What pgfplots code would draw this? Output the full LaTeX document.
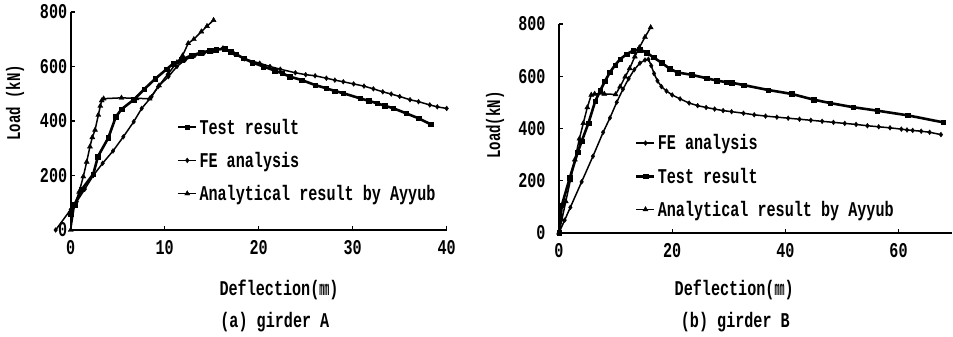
\documentclass[border=0pt]{standalone}
\usepackage{fontspec}
\setmainfont{Liberation Mono}[FakeStretch=0.72]
\usepackage{pgfplots}
\pgfplotsset{compat=1.18}
\newcommand\cf{\fontsize{21bp}{24bp}\selectfont\bfseries}
\newcommand\cfs{\fontsize{19.5bp}{22bp}\selectfont\bfseries}
\pgfplotsset{
  girder/.style={
    scale only axis, clip=false,
    axis lines=left, axis line style={-, line width=1.7bp},
    tick align=inside, major tick length=4bp,
    tick style={line width=1.2bp, black},
    ymin=0, ymax=800, ytick={0,200,...,800},
    xmin=0,
    /pgf/number format/assume math mode=true,
    tick label style={font=\cf},
    xticklabel shift=7bp,
    legend style={font=\cf, draw=none, fill=none, inner sep=0pt, row sep=12.5bp,
      cells={anchor=west}},
    legend cell align=left,
    legend image code/.code={\draw[mark repeat=2,mark phase=2,##1] plot coordinates {(0bp,0bp) (9bp,0bp) (18bp,0bp)};},
  },
  test/.style={black, line width=2.6bp, mark=square*, mark size=2.3bp, mark options={line width=0.4bp}},
  fe/.style={black, line width=1.5bp, mark=diamond*, mark size=2.4bp, mark options={line width=0.4bp}},
  ana/.style={black, line width=1.5bp, mark=triangle*, mark size=2.9bp, mark options={line width=0.4bp}},
}
\begin{document}
\begin{tikzpicture}
\path[use as bounding box] (0,0) rectangle (953bp,337bp);
% ---------------- girder A
\begin{axis}[girder,
  at={(70.7bp,107bp)}, anchor=south west,
  width=376bp, height=218bp,
  xmax=40, xtick={0,10,...,40},
  every axis y label/.style={at={(axis description cs:-0.148,0.583)}, rotate=90, anchor=center, font=\cfs},
  every axis x label/.style={at={(axis description cs:0.554,-0.275)}, anchor=center, font=\cf},
  every axis title/.style={at={(axis description cs:0.543,-0.422)}, anchor=center, font=\cf},
  ylabel={Load (kN)},
  xlabel={Deflection(\scalebox{0.55}[1]{mm})},
  title={(a) girder A},
  legend style={at={(axis description cs:0.282,0.52)}, anchor=north west},
]
\addplot[test] coordinates {(0,60)(0.4,92)(1.2,150)(2.4,205)(2.9,270)(4.0,338)(4.8,415)(5.4,443)(6.7,478)(7.8,516)(9.0,555)(10.2,590)(10.9,610)(11.8,625)(12.8,640)(13.8,650)(14.8,658)(15.5,662)(16.4,665)(17.0,655)(17.6,645)(18.4,630)(19.3,615)(20.5,600)(21.7,585)(22.5,575)(23.3,563)(24.6,550)(26.0,532)(27.2,520)(28.1,510)(29.0,502)(30.8,483)(31.7,474)(32.6,465)(33.4,456)(34.3,447)(35.7,428)(37.0,410)(38.3,388)};
\addlegendentry{Test result}
\addplot[fe] coordinates {(-1.6,0)(0,75)(0.64,104)(1.5,150)(2.4,200)(3.4,245)(4.5,290)(5.6,342)(6.7,397)(7.55,446)(8.6,489)(9.3,526)(10.4,563)(11.3,600)(12.2,625)(13.2,640)(14.2,650)(15.2,658)(16.2,668)(17.3,650)(18.5,628)(20.1,612)(21.2,600)(22.3,590)(23.9,577)(25.0,570)(26.0,566)(27.2,557)(28.1,550)(29.0,544)(30.1,536)(31.2,528)(32.2,518)(33.2,507)(34.1,499)(35.0,490)(36.1,478)(37.0,471)(38.2,459)(39.0,452)(40.0,446)};
\addlegendentry{FE analysis}
\addplot[ana] coordinates {(0,0)(0.4,90)(0.9,140)(1.34,196)(1.7,250)(2.05,306)(2.3,340)(2.59,367)(2.94,422)(3.15,455)(3.3,475)(3.5,482)(5.4,485)(7.0,483)(8.4,482)(9.4,530)(10.4,575)(11.3,615)(11.9,640)(12.5,685)(13.1,700)(13.9,728)(14.5,748)(15.2,770)};
\addlegendentry{Analytical result by Ayyub}
\end{axis}
% ---------------- girder B
\begin{axis}[girder,
  at={(559bp,104.3bp)}, anchor=south west,
  width=392.7bp, height=208.7bp,
  xmax=69.4, xtick={0,20,40,60},
  yticklabel={\pgfmathprintnumber{\tick}\hspace*{10bp}},
  every axis y label/.style={at={(axis description cs:-0.163,0.516)}, rotate=90, anchor=center, font=\cfs},
  every axis x label/.style={at={(axis description cs:0.446,-0.275)}, anchor=center, font=\cf},
  every axis title/.style={at={(axis description cs:0.449,-0.428)}, anchor=center, font=\cf},
  ylabel={Load(kN)},
  xlabel={Deflection(\scalebox{0.55}[1]{mm})},
  title={(b) girder B},
  legend style={at={(axis description cs:0.1935,0.48)}, anchor=north west},
]
\addplot[fe] coordinates {(0,0)(1.0,48)(2.0,97)(4.0,195)(6.0,293)(7.8,385)(9.0,440)(10.2,500)(11.3,550)(12.3,590)(13.3,625)(14.3,650)(15.2,662)(15.8,665)(16.3,640)(16.8,610)(17.4,582)(18.1,560)(19.0,543)(20.0,528)(21.4,513)(23.0,497)(24.5,487)(26.0,480)(27.5,474)(29.0,468)(30.5,464)(32.6,458)(34.5,452)(36.5,447)(38.5,443)(40.5,439)(42.5,435)(44.5,431)(46.5,427)(48.5,423)(50.5,419)(52.5,415)(54.5,410)(56.5,406)(58.5,402)(60.5,397)(61.5,394)(62.5,392)(64.0,389)(65.5,385)(67.5,376)};
\addlegendentry{FE analysis}
\addplot[test] coordinates {(0,0)(0.5,105)(1.9,210)(3.3,308)(4.0,350)(5.2,420)(6.4,504)(7.3,545)(8.1,580)(9.0,615)(9.9,642)(10.8,665)(12.0,685)(13.1,698)(14.3,702)(15.5,690)(16.7,672)(18.1,652)(19.6,628)(21.0,614)(23.5,605)(26.1,592)(27.9,583)(29.6,577)(30.5,575)(32.6,566)(37.0,547)(41.1,532)(45.0,510)(47.9,497)(52.0,481)(56.2,468)(61.6,450)(67.9,423)};
\addlegendentry{Test result}
\addplot[ana] coordinates {(0,0)(0.5,50)(1.2,120)(2.0,200)(2.8,280)(3.6,360)(4.3,420)(5.0,480)(5.7,528)(6.3,532)(8.0,532)(10.0,530)(10.8,560)(11.7,598)(12.5,630)(13.4,675)(14.2,710)(15.2,750)(16.2,787)};
\addlegendentry{Analytical result by Ayyub}
\end{axis}
\end{tikzpicture}
\end{document}
